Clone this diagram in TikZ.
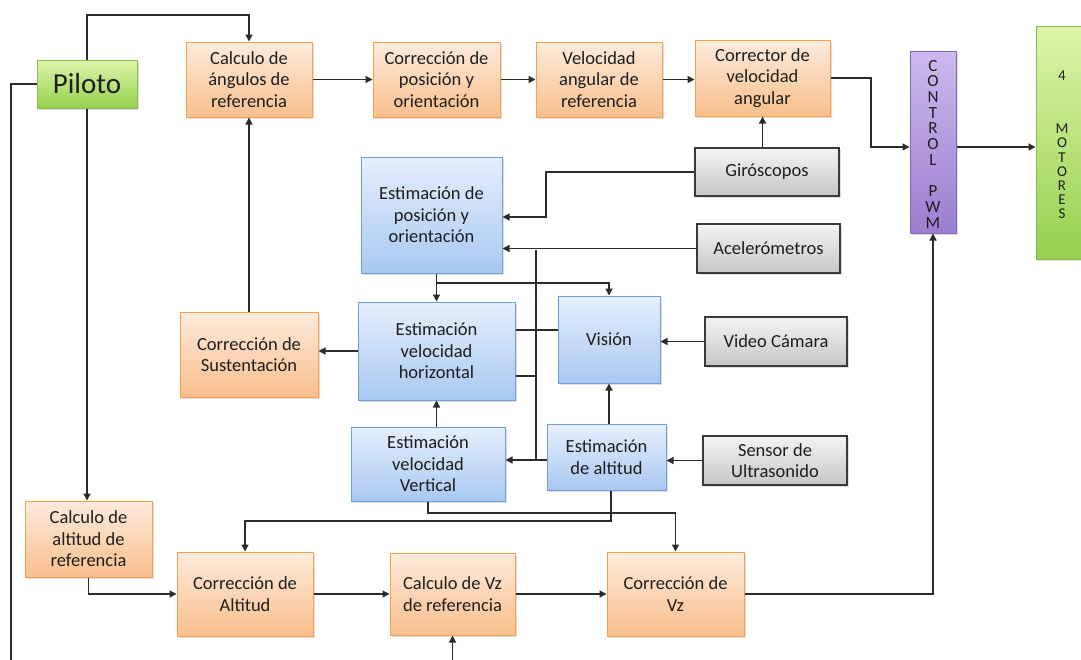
\documentclass[tikz,border=0pt]{standalone}
\usepackage{fontspec}
\setmainfont{Carlito}
\usetikzlibrary{arrows.meta,shadows}

\definecolor{txt}{HTML}{1E1E1E}
\definecolor{wireC}{HTML}{2B2B2B}
\definecolor{orTop}{HTML}{FDEBDC}
\definecolor{orBot}{HTML}{F9BF8C}
\definecolor{orBorder}{HTML}{F5A04E}
\definecolor{blTop}{HTML}{E6EFFC}
\definecolor{blBot}{HTML}{A8C8F1}
\definecolor{blBorder}{HTML}{6F9ED8}
\definecolor{grTop}{HTML}{F4F4F4}
\definecolor{grBot}{HTML}{C6C6C6}
\definecolor{grBorder}{HTML}{3A3A3A}
\definecolor{gnTop}{HTML}{DDF5AA}
\definecolor{gnBot}{HTML}{96D04E}
\definecolor{gnBorder}{HTML}{8DBD48}
\definecolor{puTop}{HTML}{CDB9EE}
\definecolor{puBot}{HTML}{9B7ED0}
\definecolor{puBorder}{HTML}{8467B8}

\begin{document}
\begin{tikzpicture}[x=1pt,y=-1pt,
  box/.style={draw, line width=1pt, align=center, inner sep=2pt,
    font=\fontsize{18.5}{21.5}\selectfont, text=txt,
    drop shadow={opacity=0.25, shadow xshift=1.5pt, shadow yshift=-1.5pt}},
  orangebox/.style={box, draw=orBorder, top color=orTop, bottom color=orBot},
  bluebox/.style={box, draw=blBorder, top color=blTop, bottom color=blBot},
  graybox/.style={box, draw=grBorder, line width=1.3pt, top color=grTop, bottom color=grBot},
  greenbox/.style={box, draw=gnBorder, top color=gnTop, bottom color=gnBot},
  purplebox/.style={box, draw=puBorder, top color=puTop, bottom color=puBot},
  wire/.style={line width=1.3pt, draw=wireC},
  arr/.style={wire, -{Triangle[length=7pt,width=7pt]}},
]
\useasboundingbox[fill=white] (0,0) rectangle (1081,659);

% ---- top row ----
\node[greenbox, font=\fontsize{29}{32}\selectfont, minimum width=100pt, minimum height=48pt] (piloto) at (87,84) {Piloto};
\node[orangebox, minimum width=126pt, minimum height=75pt] (cang) at (249,79.5) {Calculo de\\ángulos de\\referencia};
\node[orangebox, minimum width=127pt, minimum height=75pt] (cpos) at (436.5,79.5) {Corrección de\\posición y\\orientación};
\node[orangebox, minimum width=126pt, minimum height=75pt] (vang) at (599,79.5) {Velocidad\\angular de\\referencia};
\node[orangebox, minimum width=135pt, minimum height=76pt] (cvel) at (762.5,78) {Corrector de\\velocidad\\angular};
\node[purplebox, minimum width=46pt, minimum height=182pt] (pwm) at (933,142) {};
\node[align=center, text=txt, font=\fontsize{17}{15.7}\selectfont] (pwmlbl) at (933,144) {C\\O\\N\\T\\R\\O\\L\\[15.7pt]P\\W\\M};
\node[greenbox, minimum width=45pt, minimum height=233pt] (mot) at (1058.5,142.5) {};
\node[align=center, text=txt, font=\fontsize{15}{14.2}\selectfont] (motlbl) at (1062,145) {4\\[38.8pt]M\\O\\T\\O\\R\\E\\S};

% ---- sensors and estimators ----
\node[graybox, minimum width=144pt, minimum height=48pt] (giro) at (767,172) {Giróscopos};
\node[graybox, minimum width=143pt, minimum height=49pt] (acel) at (768.5,248.5) {Acelerómetros};
\node[graybox, minimum width=142pt, minimum height=49pt] (vcam) at (776,341.5) {Video Cámara};
\node[graybox, minimum width=144pt, minimum height=49pt] (sens) at (775,460.5) {Sensor de\\Ultrasonido};

\node[bluebox, minimum width=141pt, minimum height=116pt] (epos) at (431.5,215) {Estimación de\\posición y\\orientación};
\node[bluebox, minimum width=157pt, minimum height=98pt] (evh) at (436.5,351) {Estimación\\velocidad\\horizontal};
\node[orangebox, minimum width=138pt, minimum height=85pt] (sust) at (249,354.5) {Corrección de\\Sustentación};
\node[bluebox, minimum width=102pt, minimum height=87pt] (vis) at (609,339.5) {Visión};
\node[bluebox, minimum width=154pt, minimum height=74pt] (evv) at (428,464) {Estimación\\velocidad\\Vertical};
\node[bluebox, minimum width=119pt, minimum height=66pt] (ealt) at (606.5,457) {Estimación\\de altitud};

% ---- altitude loop ----
\node[orangebox, minimum width=127pt, minimum height=76pt] (calt) at (88.5,539) {Calculo de\\altitud de\\referencia};
\node[orangebox, minimum width=136pt, minimum height=84pt] (coralt) at (245,594) {Corrección de\\Altitud};
\node[orangebox, minimum width=125pt, minimum height=82pt] (cvz) at (452.5,594) {Calculo de Vz\\de referencia};
\node[orangebox, minimum width=137pt, minimum height=84pt] (corvz) at (675.5,594) {Corrección de\\Vz};

% ---- connectors ----
\coordinate (ptop) at (87,15);
\draw[arr] (piloto.north) -- (ptop) -| (cang.north);
\coordinate (pleft) at (11,662);
\draw[wire] (piloto.west) -| (pleft);
\draw[arr] (piloto.south) -- (piloto.south |- calt.north);

\draw[arr] (cang.east) -- (cpos.west);
\draw[arr] (cpos.east) -- (vang.west);
\draw[arr] (vang.east) -- (vang.east -| cvel.west);
\coordinate (k1) at (871,147);
\draw[arr] (cvel.east) -| (k1) -- (k1 -| pwm.west);
\draw[arr] (k1 -| pwm.east) -- (k1 -| mot.west);

\draw[arr] (giro.north -| cvel.south) -- (cvel.south);
\coordinate (g1) at (546,217);
\draw[arr] (giro.west) -| (g1) -- (g1 -| epos.east);
\draw[arr] (acel.west) -- (acel.west -| epos.east);

\coordinate (bus1) at (536,250);
\coordinate (bus2) at (536,460);
\draw[wire] (bus1) -- (bus2);
\draw[arr] (ealt.west |- bus2) -- (evv.east |- bus2);
\coordinate (h1) at (536,330);
\draw[wire] (evh.east |- h1) -- (vis.west |- h1);
\coordinate (h2) at (536,376);
\draw[wire] (evh.east |- h2) -- (h2);

\draw[arr] (epos.south -| evh.north) -- (evh.north);
\coordinate (b3) at (436.5,283);
\draw[arr] (b3) -| (vis.north);
\draw[arr] (evh.west) -- (evh.west -| sust.east);
\draw[arr] (sust.north) -- (cang.south);
\draw[arr] (vcam.west) -- (vcam.west -| vis.east);
\draw[arr] (ealt.north -| vis.south) -- (vis.south);
\draw[arr] (sens.west) -- (sens.west -| ealt.east);
\draw[arr] (evv.north -| evh.south) -- (evh.south);

\coordinate (v2) at (675.5,513);
\draw[arr] (evv.south) |- (v2) -- (corvz.north);
\coordinate (a1) at (611,521);
\draw[arr] (ealt.south -| a1) -- (a1) -| (coralt.north);

\draw[arr] (calt.south) |- (coralt.west);
\draw[arr] (coralt.east) -- (cvz.west);
\coordinate (cvzin) at (452.5,662);
\draw[arr] (cvzin) -- (cvz.south);
\draw[arr] (cvz.east) -- (corvz.west);
\draw[arr] (corvz.east) -| (pwm.south);
\end{tikzpicture}
\end{document}
